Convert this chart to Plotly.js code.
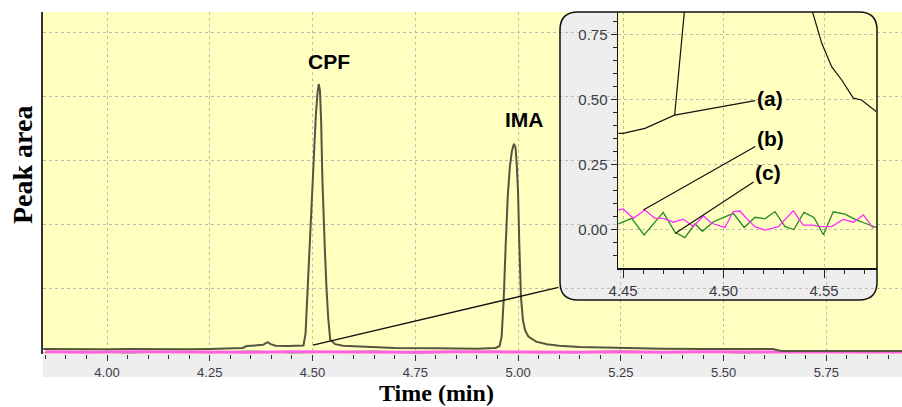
<!DOCTYPE html>
<html><head><meta charset="utf-8">
<script src="https://cdn.plot.ly/plotly-3.0.1.min.js"></script>
<style>html,body{margin:0;padding:0;background:#fff;}#chart{width:902px;height:407px;}</style>
</head><body><div id="chart"></div>
<script>
// ---- Main chromatogram, trace (a) ----
const timeA = [3.845,3.90,3.95,4.00,4.05,4.10,4.15,4.20,4.25,4.30,4.33,4.34,4.36,4.38,4.387,4.392,4.398,4.41,4.44,4.47,4.478,4.483,4.488,4.493,4.498,4.503,4.508,4.512,4.515,4.518,4.521,4.524,4.527,4.530,4.534,4.538,4.543,4.555,4.574,4.62,4.70,4.80,4.90,4.945,4.955,4.960,4.965,4.970,4.975,4.980,4.985,4.990,4.994,4.997,5.000,5.003,5.007,5.012,5.017,5.025,5.044,5.07,5.10,5.15,5.25,5.35,5.45,5.55,5.62,5.64,5.75,5.85,5.934];
const traceA = [0.055,0.05,0.055,0.05,0.055,0.05,0.055,0.05,0.055,0.06,0.07,0.10,0.105,0.12,0.15,0.16,0.13,0.105,0.10,0.105,0.11,0.30,1.0,1.8,2.4,3.1,3.7,4.05,4.195,4.10,3.6,2.7,2.05,1.6,1.0,0.55,0.20,0.13,0.106,0.09,0.07,0.065,0.06,0.07,0.10,0.25,0.82,1.7,2.45,2.9,3.15,3.26,3.2,2.9,2.5,1.7,0.87,0.5,0.35,0.25,0.17,0.13,0.106,0.086,0.07,0.06,0.055,0.055,0.055,0.025,0.025,0.025,0.025];
// ---- Main chromatogram, traces (b) magenta and (c) green ----
const timeBC = [3.85,3.95,4.05,4.15,4.25,4.35,4.45,4.55,4.65,4.75,4.85,4.95,5.05,5.15,5.25,5.35,5.45,5.55,5.65,5.75,5.85,5.95];
const traceB = [0.01,0.004,0.012,0.006,0.009,0.003,0.011,0.007,0.01,0.004,0.012,0.006,0.009,0.005,0.012,0.004,0.01,0.007,0.011,0.005,0.009,0.006];
const traceC = [0.0,0.015,-0.005,0.012,0.0,0.02,-0.004,0.01,0.018,-0.003,0.008,0.016,0.0,0.012,0.02,0.004,0.01,-0.002,0.014,0.006,0.0,0.01];
// ---- Inset (zoom 4.45 - 4.575 min) ----
const insetTimeA = [4.4477,4.4501,4.4609,4.4757,4.4808,4.512,4.5434,4.5489,4.5538,4.5588,4.5646,4.5687,4.5759];
const insetA = [0.37,0.37,0.389,0.44,0.86,4.2,0.86,0.716,0.626,0.575,0.505,0.498,0.454];
const insetTimeB = [4.4477,4.4501,4.4551,4.4609,4.4659,4.4700,4.4750,4.4800,4.4850,4.4900,4.4941,4.5007,4.5049,4.5082,4.5107,4.5157,4.5206,4.5273,4.5347,4.5397,4.5439,4.5489,4.5538,4.5596,4.5646,4.5696,4.5745];
const insetB = [0.075,0.079,0.043,0.075,0.043,0.043,0.028,0.040,0.011,0.053,0.024,0.008,0.069,0.071,0.049,0.011,-0.002,0.011,0.072,0.017,0.017,0.011,0.011,0.039,0.028,0.056,0.004];
const insetTimeC = [4.4477,4.4543,4.4605,4.4700,4.4759,4.4808,4.4858,4.4895,4.4950,4.5005,4.5049,4.5103,4.5157,4.5206,4.5256,4.5306,4.5350,4.5400,4.5450,4.5497,4.5546,4.5604,4.5660,4.5704,4.5760];
const insetC = [0.022,0.043,-0.021,0.066,-0.011,-0.031,0.022,-0.007,0.03,0.048,0.062,0.008,0.047,0.041,0.069,0.011,0.000,0.066,0.046,-0.02,0.068,0.059,0.037,0.024,0.008];
const peakLabels = ['CPF','IMA'];
const insetLabels = ['(a)','(b)','(c)'];

// ---- geometry helpers (pixels -> paper) ----
const W = 902, H = 407, M = {l:43, r:0, t:12, b:53};
const PW = W - M.l - M.r, PH = H - M.t - M.b;
const fx = px => (px - M.l) / PW;
const fy = py => (H - M.b - py) / PH;

const YEL = '#ffffc0', GRID = '#bdbdb0', BAND = '#eeeeee';
const tickFont = {family:'Liberation Sans, Arial, sans-serif', size:13, color:'#3c3c46'};
const lblFont = {family:'Liberation Sans, Arial, sans-serif', size:21, color:'#000', weight:'bold'};
const titleFont = {family:'Liberation Serif, Times New Roman, serif', size:24, color:'#000', weight:'bold'};

const data = [
  {x:timeBC, y:traceC, xaxis:'x', yaxis:'y', mode:'lines', line:{color:'#2f8f2f', width:1.5}, name:'(c)'},
  {x:timeBC, y:traceB, xaxis:'x', yaxis:'y', mode:'lines', line:{color:'#ff5ee6', width:3}, name:'(b)'},
  {x:timeA, y:traceA, xaxis:'x', yaxis:'y', mode:'lines', line:{color:'#55553f', width:2}, name:'(a)'},
  {x:insetTimeA, y:insetA, xaxis:'x2', yaxis:'y2', mode:'lines', line:{color:'#111', width:1.2}, name:'(a) inset'},
  {x:insetTimeC, y:insetC, xaxis:'x2', yaxis:'y2', mode:'lines', line:{color:'#228b22', width:1.3}, name:'(c) inset'},
  {x:insetTimeB, y:insetB, xaxis:'x2', yaxis:'y2', mode:'lines', line:{color:'#ff2cff', width:1.3}, name:'(b) inset'}
];

// inset frame
const xl=560, xr=877, yt=12, yb=300, xa=618, ya=268, r=18;
const P = (x,y) => fx(x).toFixed(5)+','+fy(y).toFixed(5);
const grayPath = 'M'+P(xa,yt)+' L'+P(xl+r,yt)+' Q'+P(xl,yt)+' '+P(xl,yt+r)+' L'+P(xl,yb-r)+' Q'+P(xl,yb)+' '+P(xl+r,yb)+
  ' L'+P(xr-r,yb)+' Q'+P(xr,yb)+' '+P(xr,yb-r)+' L'+P(xr,ya)+' L'+P(xa,ya)+' Z';
const borderPath = 'M'+P(xl+r,yt)+' L'+P(xr-r,yt)+' Q'+P(xr,yt)+' '+P(xr,yt+r)+' L'+P(xr,yb-r)+' Q'+P(xr,yb)+' '+P(xr-r,yb)+
  ' L'+P(xl+r,yb)+' Q'+P(xl,yb)+' '+P(xl,yb-r)+' L'+P(xl,yt+r)+' Q'+P(xl,yt)+' '+P(xl+r,yt)+' Z';

const layout = {
  width:W, height:H, margin:M, showlegend:false,
  paper_bgcolor:'#ffffff', plot_bgcolor:YEL,
  xaxis:{domain:[0,1], range:[3.8443,5.934], dtick:0.25, tick0:0, tickformat:'.2f',
    ticks:'outside', ticklen:6, tickcolor:'#333', tickwidth:1, tickfont:tickFont,
    minor:{dtick:0.05, ticks:'outside', ticklen:4, tickcolor:'#333', showgrid:false},
    showgrid:true, gridcolor:GRID, griddash:'3px,3px', gridwidth:1, zeroline:false, showline:false},
  yaxis:{domain:[0,1], range:[-0.0234,5.3203], dtick:1, tick0:0, showticklabels:false, ticks:'',
    showgrid:true, gridcolor:GRID, griddash:'3px,3px', gridwidth:1, zeroline:false,
    showline:true, linecolor:'#333', linewidth:2},
  xaxis2:{domain:[fx(xa), fx(xr)], anchor:'y2', range:[4.44751,4.57637], dtick:0.05, tick0:0, tickformat:'.2f',
    ticks:'outside', ticklen:8, tickcolor:'#222', tickfont:{...tickFont, size:15},
    minor:{dtick:0.01, ticks:'outside', ticklen:4, tickcolor:'#222', showgrid:false},
    showgrid:true, gridcolor:GRID, griddash:'3px,3px', zeroline:false,
    showline:true, linecolor:'#111', linewidth:1.5},
  yaxis2:{domain:[fy(ya), 1], anchor:'x2', range:[-0.14808,0.8365], dtick:0.25, tick0:0, tickformat:'.2f',
    ticks:'outside', ticklen:6, tickcolor:'#222', tickfont:{...tickFont, size:15},
    minor:{dtick:0.05, ticks:'outside', ticklen:4, tickcolor:'#222', showgrid:false},
    showgrid:true, gridcolor:GRID, griddash:'3px,3px', zeroline:false,
    showline:true, linecolor:'#111', linewidth:1.5},
  shapes:[
    {type:'rect', xref:'paper', yref:'paper', x0:0, x1:1, y0:fy(377), y1:0, fillcolor:BAND, line:{width:0}, layer:'below'},
    {type:'path', xref:'paper', yref:'paper', path:grayPath, fillcolor:BAND, line:{width:0}, layer:'below'},
    {type:'path', xref:'paper', yref:'paper', path:borderPath, fillcolor:'rgba(0,0,0,0)', line:{color:'#111', width:1.5}, layer:'above'}
  ],
  annotations:[
    {text:'Time (min)', xref:'paper', yref:'paper', x:fx(436.5), y:fy(393), xanchor:'center', yanchor:'middle', showarrow:false, font:titleFont},
    {text:'Peak area', xref:'paper', yref:'paper', x:fx(23), y:fy(165), xanchor:'center', yanchor:'middle', textangle:-90, showarrow:false, font:{...titleFont, size:28}},
    {text:peakLabels[0], xref:'x', yref:'y', x:4.539, y:4.547, showarrow:false, font:lblFont},
    {text:peakLabels[1], xref:'x', yref:'y', x:5.015, y:3.648, showarrow:false, font:lblFont},
    {text:'', xref:'x', yref:'y', x:4.501, y:0.117, ax:247, ay:-58, showarrow:true, arrowhead:0, arrowwidth:1.3, arrowcolor:'#111', standoff:0},
    {text:insetLabels[0], xref:'x2', yref:'y2', x:4.4757, y:0.44, ax:95, ay:-17, showarrow:true, arrowhead:0, arrowwidth:1.2, arrowcolor:'#111', standoff:0, font:lblFont},
    {text:insetLabels[1], xref:'x2', yref:'y2', x:4.4601, y:0.075, ax:127, ay:-72, showarrow:true, arrowhead:0, arrowwidth:1.2, arrowcolor:'#111', standoff:0, font:lblFont},
    {text:insetLabels[2], xref:'x2', yref:'y2', x:4.4759, y:-0.015, ax:93, ay:-61, showarrow:true, arrowhead:0, arrowwidth:1.2, arrowcolor:'#111', standoff:0, font:lblFont}
  ]
};
Plotly.newPlot('chart', data, layout, {staticPlot:true, displayModeBar:false});
</script>
</body></html>
